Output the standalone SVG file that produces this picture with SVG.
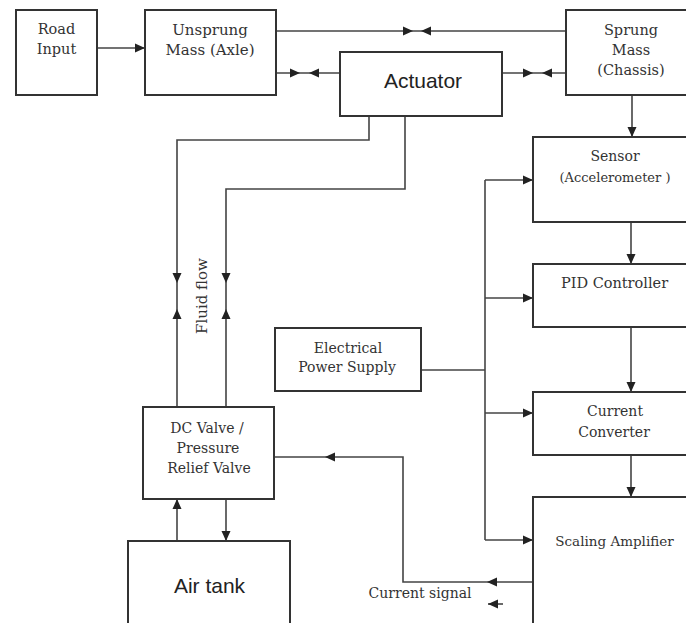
<svg xmlns="http://www.w3.org/2000/svg" xmlns:xlink="http://www.w3.org/1999/xlink" width="686" height="623" viewBox="0 0 686 623">
<style>
.box{fill:#fff;stroke:#333;stroke-width:2}
.ln{fill:none;stroke:#444;stroke-width:1.6}
.ah{fill:#222}
.t{font-family:"DejaVu Serif","Liberation Serif",serif;font-size:14px;fill:#333;text-anchor:middle}
.s{font-family:"Liberation Sans",Arial,sans-serif;font-size:21px;fill:#222;text-anchor:middle}
</style>
<defs>
<marker id="m" viewBox="-10 -5 10 10" refX="0" refY="0" markerWidth="10" markerHeight="10" markerUnits="userSpaceOnUse" orient="auto">
<path d="M0,0 L-10,-4.5 L-10,4.5 Z" fill="#222"/>
</marker>
<path id="ah" d="M0,0 L-10,-4.5 L-10,4.5 Z" class="ah"/>
</defs>
<rect width="686" height="623" fill="#fff"/>
<g id="connectors">
<path class="ln" d="M97,48 H145" marker-end="url(#m)"/>
<path class="ln" d="M276,31 H566"/>
<use xlink:href="#ah" transform="translate(413,31)"/>
<use xlink:href="#ah" transform="translate(421,31) rotate(180)"/>
<path class="ln" d="M276,73 H340"/>
<use xlink:href="#ah" transform="translate(300,73)"/>
<use xlink:href="#ah" transform="translate(309,73) rotate(180)"/>
<path class="ln" d="M502,73 H566"/>
<use xlink:href="#ah" transform="translate(533,73)"/>
<use xlink:href="#ah" transform="translate(542,73) rotate(180)"/>
<path class="ln" d="M632,95 V137" marker-end="url(#m)"/>
<path class="ln" d="M631,222 V264" marker-end="url(#m)"/>
<path class="ln" d="M631,327 V392" marker-end="url(#m)"/>
<path class="ln" d="M631,455 V497" marker-end="url(#m)"/>
<path class="ln" d="M421,370 H485"/>
<path class="ln" d="M485,180 V540"/>
<path class="ln" d="M485,180 H533" marker-end="url(#m)"/>
<path class="ln" d="M485,298 H533" marker-end="url(#m)"/>
<path class="ln" d="M485,413 H533" marker-end="url(#m)"/>
<path class="ln" d="M485,540 H533" marker-end="url(#m)"/>
<path class="ln" d="M533,582 H403 V457 H274"/>
<use xlink:href="#ah" transform="translate(487,582) rotate(180)"/>
<use xlink:href="#ah" transform="translate(325,457) rotate(180)"/>
<path class="ln" d="M503,604 H488" marker-end="url(#m)"/>
<path class="ln" d="M369,116 V140 H177 V407"/>
<path class="ln" d="M405,116 V189 H226 V407"/>
<use xlink:href="#ah" transform="translate(177,283) rotate(90)"/>
<use xlink:href="#ah" transform="translate(226,283) rotate(90)"/>
<use xlink:href="#ah" transform="translate(177,309) rotate(-90)"/>
<use xlink:href="#ah" transform="translate(226,309) rotate(-90)"/>
<path class="ln" d="M177,541 V499" marker-end="url(#m)"/>
<path class="ln" d="M226,499 V541" marker-end="url(#m)"/>
<text class="t" transform="translate(207,296) rotate(-90)" style="font-size:15px">Fluid flow</text>
<text class="t" x="420" y="598">Current signal</text>
</g>
<g id="road-input">
<rect class="box" x="16" y="10" width="81" height="85"/>
<text class="t" x="56.5" y="34" style="font-size:14.5px">Road</text>
<text class="t" x="56.5" y="54" style="font-size:14.5px">Input</text>
</g>
<g id="unsprung-mass">
<rect class="box" x="145" y="10" width="131" height="85"/>
<text class="t" x="210" y="35" style="font-size:15px">Unsprung</text>
<text class="t" x="210" y="55" style="font-size:15px">Mass (Axle)</text>
</g>
<g id="actuator">
<rect class="box" x="340" y="52" width="162" height="64"/>
<text class="s" x="423" y="88">Actuator</text>
</g>
<g id="sprung-mass">
<rect class="box" x="566" y="10" width="140" height="85"/>
<text class="t" x="631" y="35" style="font-size:14.5px">Sprung</text>
<text class="t" x="631" y="55" style="font-size:14.5px">Mass</text>
<text class="t" x="631" y="75" style="font-size:14.5px">(Chassis)</text>
</g>
<g id="sensor">
<rect class="box" x="533" y="137" width="173" height="85"/>
<text class="t" x="615" y="161">Sensor</text>
<text class="t" x="615" y="182" style="font-size:13px">(Accelerometer )</text>
</g>
<g id="pid-controller">
<rect class="box" x="533" y="264" width="173" height="63"/>
<text class="t" x="614.5" y="288" style="font-size:14.5px">PID Controller</text>
</g>
<g id="current-converter">
<rect class="box" x="533" y="392" width="173" height="63"/>
<text class="t" x="615" y="416">Current</text>
<text class="t" x="614" y="437">Converter</text>
</g>
<g id="scaling-amplifier">
<rect class="box" x="533" y="497" width="173" height="140"/>
<text class="t" x="614.5" y="546" style="font-size:13.5px">Scaling Amplifier</text>
</g>
<g id="power-supply">
<rect class="box" x="275" y="328" width="146" height="63"/>
<text class="t" x="348" y="353">Electrical</text>
<text class="t" x="347" y="372">Power Supply</text>
</g>
<g id="dc-valve">
<rect class="box" x="143" y="407" width="131" height="92"/>
<text class="t" x="207" y="433">DC Valve /</text>
<text class="t" x="208" y="453">Pressure</text>
<text class="t" x="209" y="473">Relief Valve</text>
</g>
<g id="air-tank">
<rect class="box" x="128" y="541" width="162" height="100"/>
<text class="s" x="209.5" y="593">Air tank</text>
</g>
</svg>
